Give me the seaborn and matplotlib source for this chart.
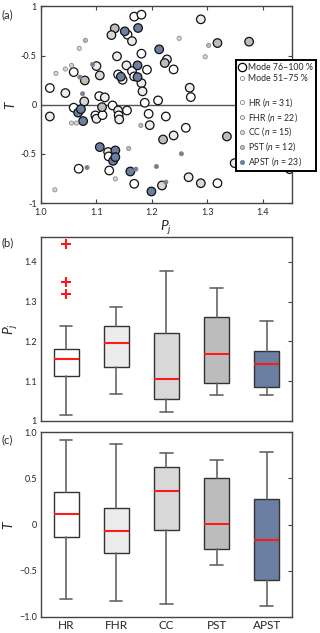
import matplotlib.pyplot as plt
import pandas as pd
import seaborn as sns
from matplotlib.lines import Line2D

sns.set_style('ticks')
plt.rcParams['font.family'] = ['Lato', 'DejaVu Sans']
plt.rcParams['mathtext.fontset'] = 'custom'
plt.rcParams['mathtext.rm'] = 'Lato'
plt.rcParams['mathtext.it'] = 'Lato:italic'

# groups and colours
groups = ['HR', 'FHR', 'CC', 'PST', 'APST']
counts = [31, 22, 15, 12, 23]
colors = {'HR': '#ffffff', 'FHR': '#ececec', 'CC': '#d8d8d8',
          'PST': '#bcbcbc', 'APST': '#6b7fa2'}

# panel (a) scatter points: Pj, T, group, mode class
pj = [1.016, 1.016, 1.044, 1.059, 1.059, 1.068, 1.100, 1.105, 1.115, 1.098,
      1.100, 1.111, 1.121, 1.122, 1.123, 1.156, 1.164, 1.168, 1.181, 1.137,
      1.139, 1.147, 1.154, 1.164, 1.168, 1.181, 1.181, 1.191, 1.183, 1.187,
      1.129, 1.139,
      1.140, 1.141, 1.155, 1.194, 1.196, 1.211, 1.227, 1.239, 1.225, 1.239,
      1.168, 1.266, 1.261, 1.268, 1.270, 1.288, 1.318, 1.349, 1.448,
      1.079, 1.110, 1.133, 1.220, 1.318, 1.375, 1.335, 1.223,
      1.078, 1.127, 1.106, 1.288, 1.218,
      1.067, 1.072, 1.076, 1.106, 1.130, 1.134, 1.134, 1.151, 1.175, 1.144,
      1.174, 1.174, 1.213, 1.161, 1.199,
      1.080, 1.302, 1.180, 1.158,
      1.069, 1.027, 1.044, 1.055, 1.249, 1.296, 1.055, 1.064, 1.134, 1.025,
      1.093, 1.070, 1.075, 1.083, 1.253, 1.208, 1.171, 1.225]
t = [0.170, -0.119, 0.119, 0.332, -0.030, -0.650, 0.393, 0.088, 0.075, -0.108,
     -0.142, -0.105, -0.480, -0.525, -0.668, 0.712, 0.647, 0.895, 0.915, 0.492,
     0.308, 0.254, 0.400, 0.342, 0.288, 0.220, 0.519, 0.356, 0.136, 0.020,
     -0.007, -0.058,
     -0.108, -0.149, -0.058, -0.092, -0.207, 0.044, 0.461, 0.359, -0.119, -0.312,
     -0.803, -0.736, -0.234, 0.173, 0.078, 0.868, -0.797, -0.593, -0.654,
     0.247, -0.024, 0.776, -0.353, 0.627, 0.641, -0.322, 0.424,
     0.034, 0.708, 0.298, -0.797, -0.820,
     -0.080, -0.045, -0.166, -0.430, -0.570, -0.464, -0.532, 0.746, 0.780, 0.285,
     0.400, 0.281, 0.563, -0.678, -0.881,
     0.654, 0.603, -0.210, -0.444,
     0.573, 0.319, 0.363, 0.400, 0.675, 0.488, -0.186, -0.186, -0.753, -0.864,
     0.410, 0.281, 0.112, -0.637, -0.498, -0.627, -0.654, -0.786]
grp = (['HR', 'FHR', 'FHR', 'HR', 'HR', 'HR', 'FHR', 'HR', 'FHR', 'HR',
        'FHR', 'HR', 'FHR', 'HR', 'HR', 'HR', 'FHR', 'HR', 'HR', 'FHR',
        'HR', 'HR', 'FHR', 'HR', 'HR', 'FHR', 'HR', 'HR', 'FHR', 'HR',
        'HR', 'FHR',
        'HR', 'FHR', 'HR', 'HR', 'FHR', 'HR', 'FHR', 'HR', 'HR', 'FHR',
        'HR', 'FHR', 'HR', 'FHR', 'HR', 'FHR', 'HR', 'FHR', 'HR']
       + ['PST'] * 8 + ['CC'] * 5 + ['APST'] * 15 + ['PST'] * 4
       + ['CC'] * 10 + ['APST'] * 8)
mode = ['big'] * 79 + ['small'] * 22

# panel (b) box summary, Pj
pj_lo = [1.015, 1.067, 1.023, 1.065, 1.065]
pj_q1 = [1.113, 1.135, 1.054, 1.096, 1.086]
pj_med = [1.156, 1.195, 1.106, 1.168, 1.144]
pj_q3 = [1.182, 1.239, 1.220, 1.262, 1.175]
pj_hi = [1.239, 1.287, 1.376, 1.335, 1.252]
pj_out = [[1.446, 1.348, 1.319], [], [], [], []]

# panel (c) box summary, T
t_lo = [-0.803, -0.829, -0.864, -0.441, -0.880]
t_q1 = [-0.130, -0.311, -0.062, -0.260, -0.607]
t_med = [0.112, -0.069, 0.369, 0.003, -0.167]
t_q3 = [0.350, 0.174, 0.621, 0.505, 0.282]
t_hi = [0.917, 0.871, 0.773, 0.700, 0.783]

spine_c = '#444444'

fig = plt.figure(figsize=(3.2, 6.33), dpi=100)
ax_a = fig.add_axes([0.128, 0.679, 0.784, 0.311])
ax_b = fig.add_axes([0.128, 0.335, 0.784, 0.291])
ax_c = fig.add_axes([0.128, 0.0257, 0.784, 0.2913])

# ---- (a) scatter
df = pd.DataFrame({'pj': pj, 't': t, 'grp': grp, 'mode': mode})
ax_a.axhline(0, color='#555555', lw=1.0, zorder=1)
sns.scatterplot(data=df[df['mode'] == 'big'], x='pj', y='t', hue='grp',
                palette=colors, s=38, edgecolor='#111111', linewidth=0.9,
                legend=False, ax=ax_a, zorder=3)
sns.scatterplot(data=df[df['mode'] == 'small'], x='pj', y='t', hue='grp',
                palette=colors, s=9, edgecolor='#8a8a8a', linewidth=0.6,
                legend=False, ax=ax_a, zorder=4)
ax_a.set_xlim(1.0, 1.452)
ax_a.set_ylim(-1, 1)
ax_a.set_xticks([1.0, 1.1, 1.2, 1.3, 1.4])
ax_a.set_xticklabels(['1.0', '1.1', '1.2', '1.3', '1.4'])
ax_a.set_yticks([-1, -0.5, 0, 0.5, 1])
ax_a.set_yticklabels(['-1', '-0.5', '0', '-0.5', '1'])
ax_a.set_xlabel('$P_j$', fontsize=10, labelpad=1)
ax_a.set_ylabel('$T$', fontsize=10, labelpad=3)
ax_a.tick_params(direction='in', top=True, right=True, length=3, width=0.8,
                 labelsize=6.5, color=spine_c)
ax_a.tick_params(axis='x', pad=3.5)
ax_a.tick_params(axis='y', pad=3)

handles = [Line2D([], [], ls='', marker='o', ms=6, mfc='white', mec='black', mew=0.9),
           Line2D([], [], ls='', marker='o', ms=3, mfc='white', mec='#8a8a8a', mew=0.6),
           Line2D([], [], ls='', marker='')]
labels = ['Mode 76\u2013100 %', 'Mode 51\u201375 %', '']
for g, n in zip(groups, counts):
    handles.append(Line2D([], [], ls='', marker='o', ms=3, mfc=colors[g],
                          mec='#8a8a8a' if g != 'APST' else colors[g], mew=0.6))
    labels.append(g + ' ($n$ = %d)' % n)
leg = ax_a.legend(handles, labels, loc='upper left', bbox_to_anchor=(0.777, 0.726),
                  frameon=True, fancybox=False, edgecolor='black', framealpha=1,
                  fontsize=6.3, handletextpad=0.25, borderpad=0.35,
                  labelspacing=0.22, handlelength=0.8, borderaxespad=0)
leg.get_frame().set_linewidth(1.4)
leg.set_zorder(10)


# ---- (b), (c) boxes
def draw_boxes(ax, lo, q1, med, q3, hi, out):
    stats = []
    for i, g in enumerate(groups):
        stats.append({'label': g, 'whislo': lo[i], 'q1': q1[i], 'med': med[i],
                      'q3': q3[i], 'whishi': hi[i], 'fliers': out[i]})
    res = ax.bxp(stats, positions=range(5), widths=0.5, patch_artist=True,
                 boxprops=dict(edgecolor='#333333', linewidth=1.0),
                 whiskerprops=dict(color='#666666', linewidth=1.2),
                 capprops=dict(color='#666666', linewidth=1.2),
                 medianprops=dict(color='#ff1a1a', linewidth=1.5),
                 flierprops=dict(marker='+', markeredgecolor='#ff1a1a',
                                 markersize=7, markeredgewidth=1.5),
                 manage_ticks=False)
    for patch, g in zip(res['boxes'], groups):
        patch.set_facecolor(colors[g])
    ax.set_xlim(-0.5, 4.5)
    ax.tick_params(axis='y', direction='in', left=False, right=True, length=3,
                   width=0.8, labelsize=6.5, pad=3, color=spine_c)
    ax.tick_params(axis='x', length=0)


draw_boxes(ax_b, pj_lo, pj_q1, pj_med, pj_q3, pj_hi, pj_out)
ax_b.set_ylim(1.0, 1.463)
ax_b.set_yticks([1.0, 1.1, 1.2, 1.3, 1.4])
ax_b.set_yticklabels(['1', '1.1', '1.2', '1.3', '1.4'])
ax_b.set_xticks([])
ax_b.set_ylabel('$P_j$', fontsize=10, labelpad=3)

draw_boxes(ax_c, t_lo, t_q1, t_med, t_q3, t_hi, [[], [], [], [], []])
ax_c.set_ylim(-1, 1)
ax_c.set_yticks([-1, -0.5, 0, 0.5, 1])
ax_c.set_yticklabels(['\u22121.0', '\u22120.5', '0', '0.5', '1.0'])
ax_c.set_xticks(range(5))
ax_c.set_xticklabels(groups, fontsize=8.5)
ax_c.tick_params(axis='x', pad=2)
ax_c.set_ylabel('$T$', fontsize=10, labelpad=3)

for ax in (ax_a, ax_b, ax_c):
    for sp in ax.spines.values():
        sp.set_visible(True)
        sp.set_color(spine_c)
        sp.set_linewidth(1.0)

fig.text(0.006, 1 - 15 / 633, '(a)', fontsize=8, va='center')
fig.text(0.006, 1 - 243 / 633, '(b)', fontsize=8, va='center')
fig.text(0.006, 1 - 440 / 633, '(c)', fontsize=8, va='center')

fig.savefig('out.png', dpi=100)
